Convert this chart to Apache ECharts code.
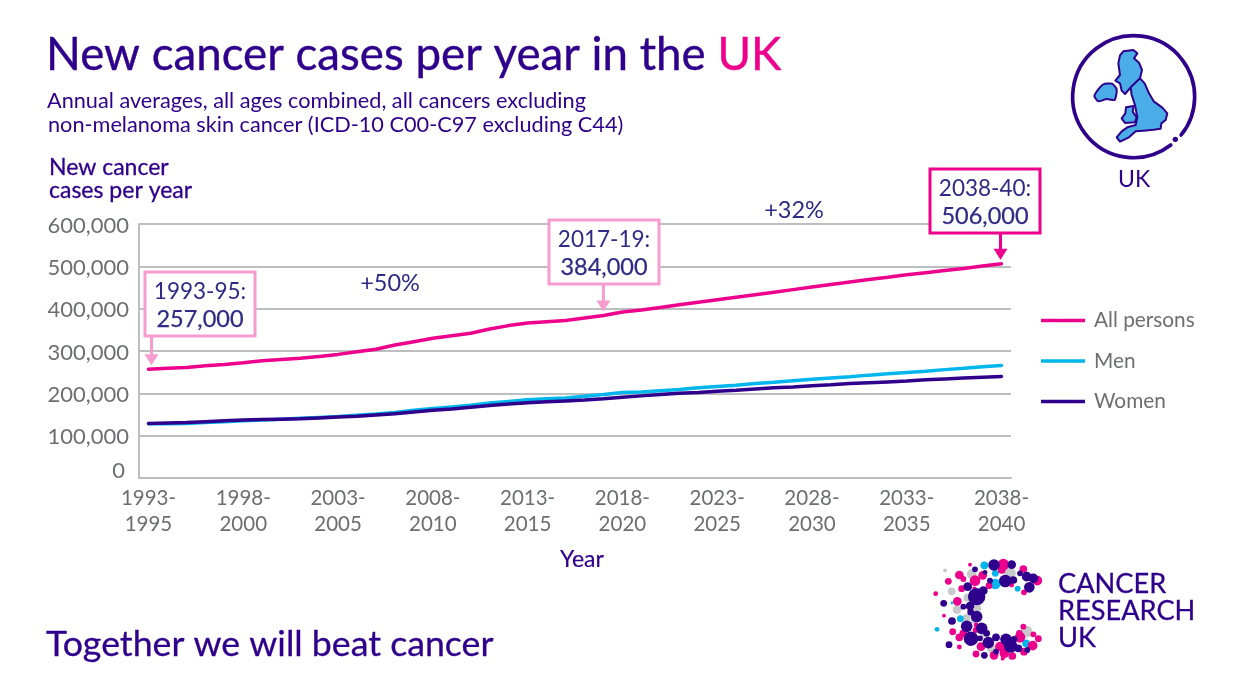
<!doctype html>
<html>
    <head>
        <meta charset="utf-8">
        <title>New cancer cases per year in the UK</title>
        <style>
            html, body { margin: 0; padding: 0; background: #fff; }
            #main { width: 1240px; height: 698px; }
        </style>
    </head>
    <body>
        <div id="main"></div>
        <script src="https://cdn.jsdelivr.net/npm/echarts@6/dist/echarts.min.js"></script>

        <script>
            var categories = [
                '1993-1995', '1994-1996', '1995-1997', '1996-1998', '1997-1999',
                '1998-2000', '1999-2001', '2000-2002', '2001-2003', '2002-2004',
                '2003-2005', '2004-2006', '2005-2007', '2006-2008', '2007-2009',
                '2008-2010', '2009-2011', '2010-2012', '2011-2013', '2012-2014',
                '2013-2015', '2014-2016', '2015-2017', '2016-2018', '2017-2019',
                '2018-2020', '2019-2021', '2020-2022', '2021-2023', '2022-2024',
                '2023-2025', '2024-2026', '2025-2027', '2026-2028', '2027-2029',
                '2028-2030', '2029-2031', '2030-2032', '2031-2033', '2032-2034',
                '2033-2035', '2034-2036', '2035-2037', '2036-2038', '2037-2039',
                '2038-2040'
            ];
            var allPersons = [
                257000, 259000, 261000, 265000, 268000, 272000, 277000, 280000, 283000, 287000,
                292000, 298000, 304000, 314000, 322000, 330000, 336000, 342000, 352000, 360000,
                366000, 369000, 372000, 378000, 384000, 392000, 397000, 403000, 409000, 415000,
                421000, 427000, 433000, 439000, 445000, 451000, 457000, 463000, 469000, 474000,
                480000, 485000, 490000, 495000, 501000, 506000
            ];
            var men = [
                128000, 128000, 129000, 131000, 133000, 135000, 137000, 139000, 141000, 143000,
                145000, 148000, 151000, 155000, 160000, 164000, 168000, 172000, 177000, 181000,
                185000, 187000, 189000, 193000, 197000, 202000, 203000, 206000, 209000, 213000,
                216000, 219000, 223000, 226000, 230000, 233000, 236000, 239000, 243000, 246000,
                249000, 252000, 256000, 259000, 263000, 266000
            ];
            var women = [
                129000, 130000, 131000, 133000, 135000, 137000, 138000, 139000, 140000, 142000,
                144000, 146000, 149000, 152000, 156000, 160000, 163000, 167000, 171000, 175000,
                178000, 180000, 182000, 184000, 187000, 191000, 194000, 197000, 200000, 202000,
                205000, 207000, 210000, 213000, 215000, 218000, 220000, 223000, 225000, 227000,
                229000, 232000, 234000, 236000, 238000, 240000
            ];

            var greyDots = [[75,61,4],[155,72,10],[270,70,12],[95,124,8],[142,143,8],[111,179,9],[172,175,8],[140,203,8],[160,212,6],[320,245,12],[215,295,10],[265,295,6],[190,255,5]];
            var cyanDots = [[193,46,8],[226,70,7],[226,102,11],[293,116,6],[96,159,3],[121,206,7],[51,238,5],[318,280,8],[148,280,5]];
            var pinkDots = [[150,44,4],[250,44,12],[310,57,8],[118,75,9],[188,76,9],[130,87,6],[85,94,7],[165,92,11],[352,92,10],[245,60,8],[207,107,7],[125,116,7],[163,115,4],[312,127,6],[275,105,5],[47,131,5],[112,154,9],[72,197,4],[168,225,5],[98,245,7],[130,250,8],[118,262,8],[167,240,6],[310,230,6],[298,250,7],[340,253,6],[355,266,7],[300,262,11],[338,287,10],[118,291,5],[183,290,9],[240,290,10],[168,312,7],[222,316,9],[253,310,10],[277,318,8],[312,305,8],[248,326,4]];
            var navyDots = [[222,45,12],[275,44,9],[165,58,6],[195,67,5],[210,92,6],[256,93,13],[280,90,8],[340,85,10],[320,80,10],[300,70,6],[143,110,9],[328,112,11],[190,122,9],[170,140,18],[71,160,7],[150,168,9],[130,170,6],[152,186,7],[170,200,12],[96,213,8],[185,235,12],[140,229,12],[153,266,15],[200,250,7],[180,265,6],[228,262,8],[258,268,12],[205,278,12],[282,268,7],[272,288,14],[87,284,7],[228,305,6],[193,316,7],[295,295,8],[322,300,6]];

            var britain = [[240,76],[250,64],[280,60],[292,70],[282,85],[297,98],[306,120],[300,145],[314,160],[327,190],[342,215],[367,233],[382,250],[377,270],[364,280],[362,296],[340,299],[310,302],[287,304],[267,322],[240,335],[230,322],[245,304],[262,292],[287,285],[292,262],[285,225],[275,195],[272,172],[255,192],[245,182],[240,160],[226,152],[240,135],[235,100]];
            var wales = [[258,232],[281,228],[278,245],[290,262],[285,277],[255,279],[245,265],[256,250]];
            var ireland = [[190,163],[216,161],[230,178],[224,210],[200,207],[175,214],[163,198],[175,178]];

            var NAVY = '#2e008b';
            var PINK = '#ec008c';
            var BLUE = '#00b6ed';
            var GREY = '#6d6e71';
            var LINE = '#bcbec0';
            var NOTE = '#2e2a85';
            var FONT = 'Lato';

            var chart = echarts.init(document.getElementById('main'), null, {
                devicePixelRatio: 1
            });

            function titleItem(text, left, top, size, color, extra) {
                return {
                    text: text,
                    left: left,
                    top: top,
                    padding: 0,
                    textStyle: Object.assign({
                        fontFamily: FONT,
                        fontSize: size,
                        fontWeight: 400,
                        color: color
                    }, extra || {})
                };
            }

            // Lato has no medium cut, a thin outline stands in for it
            var medium = { textBorderColor: NAVY, textBorderWidth: 0.3 };

            chart.setOption({
                animation: false,
                backgroundColor: '#fff',
                textStyle: { fontFamily: FONT },
                title: [
                    titleItem('New cancer cases per year in the {uk|UK}', 46, 32, 45.7, NAVY, {
                        textBorderColor: NAVY,
                        textBorderWidth: 0.4,
                        rich: { uk: { fontFamily: FONT, fontSize: 45.7, color: PINK, textBorderColor: PINK, textBorderWidth: 0.4 } }
                    }),
                    titleItem('Annual averages, all ages combined, all cancers excluding', 47, 90, 21.7, NAVY),
                    titleItem('non-melanoma skin cancer (ICD-10 C00-C97 excluding C44)', 48, 114, 21.7, NAVY),
                    titleItem('New cancer', 49, 156, 23, NAVY, medium),
                    titleItem('cases per year', 49, 179, 23, NAVY, medium),
                    titleItem('Together we will beat cancer', 46, 626, 35.7, NAVY, medium),
                    titleItem('UK', 1118, 168, 23, NAVY),
                    titleItem('CANCER', 1058, 571, 27.2, NAVY, medium),
                    titleItem('RESEARCH', 1058, 598, 27.2, NAVY, medium),
                    titleItem('UK', 1058, 625, 27.2, NAVY, medium)
                ],
                legend: {
                    orient: 'vertical',
                    left: 1041,
                    top: 310,
                    padding: 0,
                    icon: 'rect',
                    itemWidth: 44,
                    itemHeight: 3.5,
                    itemGap: 19.5,
                    textStyle: { fontFamily: FONT, fontSize: 20.8, color: GREY, padding: [0, 0, 0, 4] },
                    data: ['All persons', 'Men', 'Women']
                },
                grid: { left: 139, top: 224, width: 872, height: 254 },
                xAxis: {
                    type: 'category',
                    data: categories,
                    name: 'Year',
                    nameLocation: 'middle',
                    nameGap: 70,
                    nameTextStyle: { fontFamily: FONT, fontSize: 23, color: NAVY, textBorderColor: NAVY, textBorderWidth: 0.2, padding: [0, 0, 0, 14] },
                    axisLine: { lineStyle: { color: LINE, width: 2 } },
                    axisTick: { show: false },
                    axisLabel: {
                        interval: 4,
                        margin: 8,
                        fontFamily: FONT,
                        fontSize: 20.5,
                        lineHeight: 25.5,
                        color: GREY,
                        formatter: function (value) {
                            return value.replace('-', '-\n');
                        }
                    }
                },
                yAxis: {
                    type: 'value',
                    min: 0,
                    max: 600000,
                    interval: 100000,
                    axisLine: { show: true, lineStyle: { color: LINE, width: 2 } },
                    axisTick: { show: false },
                    splitLine: { lineStyle: { color: LINE, width: 2 } },
                    axisLabel: {
                        margin: 10,
                        fontFamily: FONT,
                        fontSize: 22,
                        color: GREY,
                        formatter: function (value) {
                            if (value === 0) {
                                return '{zero|0}';
                            }
                            return '{num|' + value.toLocaleString('en-GB') + '}';
                        },
                        rich: {
                            num: { fontFamily: FONT, fontSize: 22, color: GREY, padding: [3, 0, 0, 0] },
                            zero: { fontFamily: FONT, fontSize: 22, color: GREY, padding: [0, 4, 15, 0] }
                        }
                    }
                },
                series: [
                    { name: 'All persons', type: 'line', data: allPersons, color: PINK, symbol: 'none', lineStyle: { width: 3.5, cap: 'round' } },
                    { name: 'Men', type: 'line', data: men, color: BLUE, symbol: 'none', lineStyle: { width: 3.5, cap: 'round' } },
                    { name: 'Women', type: 'line', data: women, color: NAVY, symbol: 'none', lineStyle: { width: 3.5, cap: 'round' } }
                ]
            });

            // callouts hang off the data points they name
            function callout(index, dx, boxLeft, boxTop, border, head, value) {
                var pt = chart.convertToPixel({ seriesIndex: 0 }, [index, allPersons[index]]);
                var ax = pt[0] + dx;
                var boxW = 110, boxH = 64;
                var tip = pt[1] - 4;
                return [
                    { type: 'rect', z: 20, shape: { x: boxLeft, y: boxTop, width: boxW, height: boxH },
                      style: { fill: '#fff', stroke: border, lineWidth: 3 } },
                    { type: 'text', z: 21, style: { x: boxLeft + boxW / 2, y: boxTop + 20, text: head, align: 'center', verticalAlign: 'middle',
                      fontFamily: FONT, fontSize: 22.5, fill: NOTE } },
                    { type: 'text', z: 21, style: { x: boxLeft + boxW / 2, y: boxTop + 47, text: value, align: 'center', verticalAlign: 'middle',
                      fontFamily: FONT, fontSize: 23.5, fill: NOTE, stroke: NOTE, lineWidth: 0.25 } },
                    { type: 'line', z: 20, shape: { x1: ax, y1: boxTop + boxH + 1, x2: ax, y2: tip - 8 },
                      style: { stroke: border, lineWidth: 3 } },
                    { type: 'polygon', z: 20, shape: { points: [[ax - 7, tip - 11], [ax + 7, tip - 11], [ax, tip]] },
                      style: { fill: border } }
                ];
            }

            function dots(list, color) {
                return list.map(function (d) {
                    return { type: 'circle', shape: { cx: d[0], cy: d[1], r: d[2] * 1.45 }, style: { fill: color } };
                });
            }

            var mapStyle = { fill: '#4aade8', stroke: NAVY, lineWidth: 6, lineJoin: 'round' };

            var marks = []
                .concat(callout(0, 3, 145, 272, '#f79ccf', '1993-95:', '257,000'))
                .concat(callout(24, 0, 549, 220, '#f79ccf', '2017-19:', '384,000'))
                .concat(callout(45, -1, 930, 169, PINK, '2038-40:', '506,000'));

            marks.push(
                { type: 'text', style: { x: 390, y: 283, text: '+50%', align: 'center', verticalAlign: 'middle', fontFamily: FONT, fontSize: 23.5, fill: NOTE } },
                { type: 'text', style: { x: 794, y: 210, text: '+32%', align: 'center', verticalAlign: 'middle', fontFamily: FONT, fontSize: 23.5, fill: NOTE } },
                {
                    type: 'group', x: 1040, y: 30, scaleX: 1 / 3, scaleY: 1 / 3,
                    children: [
                        { type: 'arc', shape: { cx: 281, cy: 200, r: 183, startAngle: 52.5 * Math.PI / 180, endAngle: 38.9 * Math.PI / 180, clockwise: true },
                          style: { stroke: NAVY, lineWidth: 11, lineCap: 'round', fill: null } },
                        { type: 'circle', shape: { cx: 406, cy: 328, r: 8 }, style: { fill: NAVY } },
                        { type: 'polygon', shape: { points: ireland, smooth: 0.2 }, style: mapStyle },
                        { type: 'polygon', shape: { points: wales }, style: mapStyle },
                        { type: 'polygon', shape: { points: britain }, style: mapStyle },
                        { type: 'polyline', shape: { points: [[300, 145], [272, 172]] }, style: { stroke: NAVY, lineWidth: 6, fill: null } }
                    ]
                },
                {
                    type: 'group', x: 920, y: 550, scaleX: 1 / 3, scaleY: 1 / 3,
                    children: dots(greyDots, '#c8c9cb').concat(dots(cyanDots, BLUE), dots(pinkDots, PINK), dots(navyDots, NAVY))
                }
            );

            chart.setOption({ graphic: { elements: marks } });

            window.onresize = chart.resize;
        </script>
    </body>
</html>
